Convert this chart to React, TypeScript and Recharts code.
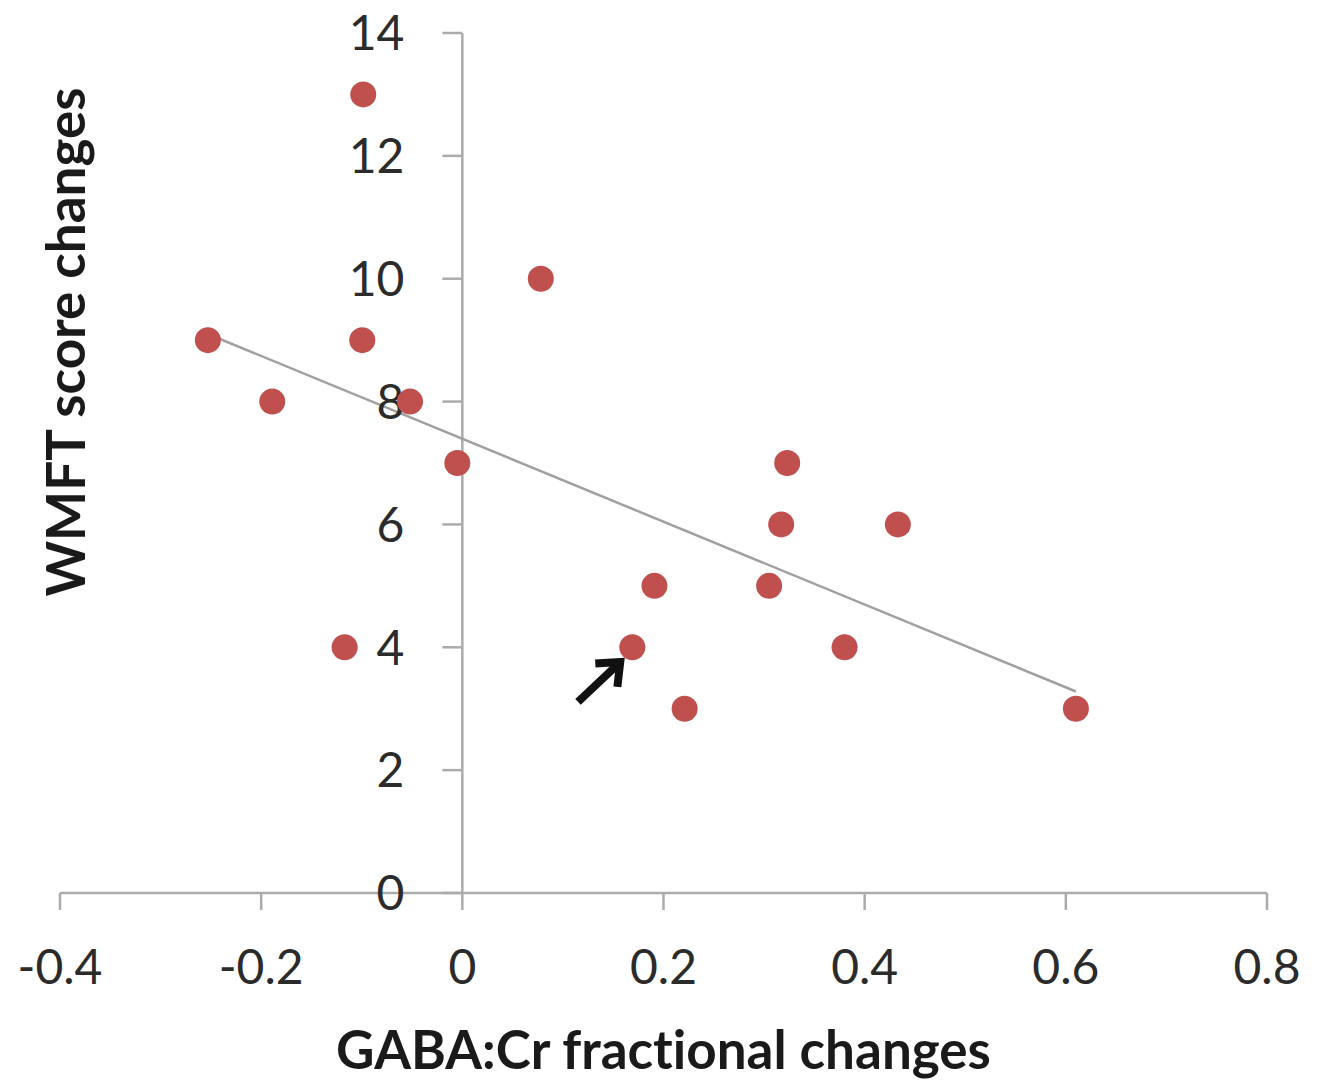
import React from 'react';
import { ScatterChart, Scatter, XAxis, YAxis, ReferenceLine, ReferenceDot } from 'recharts';

const xValues = [-0.253, -0.189, -0.0985, -0.0995, -0.052, -0.117, -0.005, 0.078, 0.169, 0.191, 0.221, 0.305, 0.317, 0.323, 0.38, 0.433, 0.61];
const yValues = [9, 8, 13, 9, 8, 4, 7, 10, 4, 5, 3, 5, 6, 7, 4, 6, 3];
const xTicks = [-0.4, -0.2, 0, 0.2, 0.4, 0.6, 0.8];
const yTicks = [0, 2, 4, 6, 8, 10, 12, 14];
const trendX = [-0.253, 0.61];
const trendY = [9.1, 3.28];
const arrowX = [0.115, 0.157];
const arrowY = [3.11, 3.76];

const points = xValues.map((x, i) => ({ x, y: yValues[i] }));
const trend = trendX.map((x, i) => ({ x, y: trendY[i] }));
const arrow = arrowX.map((x, i) => ({ x, y: arrowY[i] }));

const FONT = 'Lato, "Open Sans", sans-serif';
const AXIS = '#ababab';
const TICK_TEXT = '#2b2b2b';

const Dot = (props: any) => (
  <circle cx={props.cx} cy={props.cy} r={13} fill="#c0504d" />
);

const YTick = (label: string) => (props: any) => {
  const { cx, cy } = props;
  return (
    <g>
      <line x1={cx - 20} y1={cy} x2={cx} y2={cy} stroke={AXIS} strokeWidth={2.5} />
      <text x={cx - 58} y={cy} dy="0.36em" textAnchor="end" fontFamily={FONT} fontSize={48} fill={TICK_TEXT}>
        {label}
      </text>
    </g>
  );
};

const ArrowShape = (props: any) => {
  const { x1, y1, x2, y2 } = props;
  const ang = Math.atan2(y2 - y1, x2 - x1);
  const L = 25;
  const w = (40 * Math.PI) / 180;
  const ax = x2 - L * Math.cos(ang - w);
  const ay = y2 - L * Math.sin(ang - w);
  const bx = x2 - L * Math.cos(ang + w);
  const by = y2 - L * Math.sin(ang + w);
  return (
    <g>
      <line x1={x1} y1={y1} x2={x2 - 3 * Math.cos(ang)} y2={y2 - 3 * Math.sin(ang)} stroke="#111" strokeWidth={8} />
      <polyline points={`${ax},${ay} ${x2},${y2} ${bx},${by}`} fill="none" stroke="#111" strokeWidth={8} strokeLinejoin="miter" />
    </g>
  );
};

const noLig = { fontVariantLigatures: 'none' as const, fontFeatureSettings: '"liga" 0, "clig" 0' };

const XLabel = (props: any) => {
  const vb = props.viewBox;
  const cx = vb.x + vb.width / 2;
  return (
    <text x={cx} y={vb.y + 176} textAnchor="middle" fontFamily={FONT} fontWeight={700} fontSize={53} fill="#1a1a1a" style={noLig}>
      GABA:Cr fractional changes
    </text>
  );
};

const YLabel = (props: any) => {
  const vb = props.viewBox;
  const cx = vb.x + 66;
  const cy = vb.y + 309;
  return (
    <text x={cx} y={cy} dy="0.35em" transform={`rotate(-90 ${cx} ${cy})`} textAnchor="middle" fontFamily={FONT} fontWeight={700} fontSize={53} fill="#1a1a1a" style={noLig}>
      WMFT score changes
    </text>
  );
};

export default function App() {
  return (
    <div style={{ position: 'absolute', left: 0, top: 0, width: 1323, height: 1085, background: '#fff' }}>
      <ScatterChart width={1323} height={1085} margin={{ top: 33, right: 56, bottom: 0, left: 0 }}>
        <XAxis
          type="number"
          dataKey="x"
          domain={[-0.4, 0.8]}
          ticks={xTicks}
          tickFormatter={(v: number) => String(v)}
          height={192}
          axisLine={{ stroke: AXIS, strokeWidth: 2.5 }}
          tickLine={{ stroke: AXIS, strokeWidth: 2.5 }}
          tickSize={17}
          tickMargin={40}
          tick={{ fontFamily: FONT, fontSize: 48, fill: TICK_TEXT }}
          allowDataOverflow
          label={<XLabel />}
        />
        <YAxis
          type="number"
          dataKey="y"
          domain={[0, 14]}
          ticks={yTicks}
          width={60}
          axisLine={false}
          tickLine={false}
          tick={false}
          allowDataOverflow
          label={<YLabel />}
        />
        <ReferenceLine x={0} stroke={AXIS} strokeWidth={2.5} />
        {yTicks.map((v) => (
          <ReferenceDot key={v} x={0} y={v} r={0} shape={YTick(String(v))} />
        ))}
        <ReferenceLine segment={trend} stroke="#a0a0a0" strokeWidth={2.5} />
        <Scatter data={points} shape={Dot} isAnimationActive={false} />
        <ReferenceLine segment={arrow} shape={ArrowShape} />
      </ScatterChart>
    </div>
  );
}
